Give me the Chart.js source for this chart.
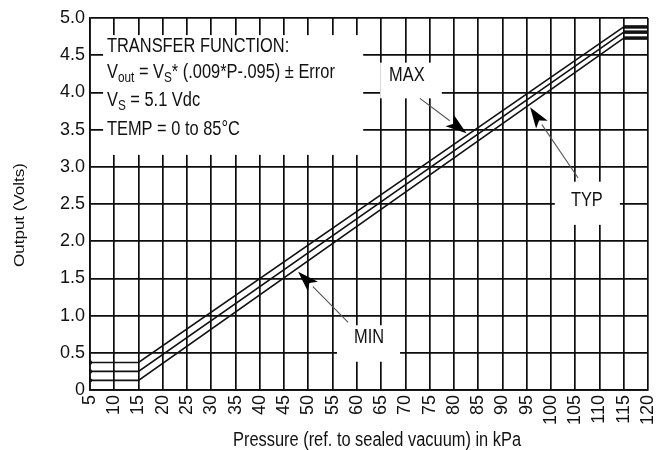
<!DOCTYPE html>
<html>
<head>
<meta charset="utf-8">
<script src="https://cdn.jsdelivr.net/npm/chart.js@4.4.1/dist/chart.umd.min.js"></script>
<style>
  html, body { margin: 0; padding: 0; background: #fff; }
  #wrap { width: 657px; height: 450px; }
</style>
</head>
<body>
<div id="wrap"><canvas id="chart" width="657" height="450"></canvas></div>
<script>
// Output voltage vs. pressure, three tolerance curves
const pressureKpa = [5, 15, 115, 120];
const minOutput = [0.13, 0.13, 4.73, 4.73];
const typOutput = [0.25, 0.25, 4.81, 4.81];
const maxOutput = [0.37, 0.37, 4.88, 4.88];

const pressureTicks = [5, 10, 15, 20, 25, 30, 35, 40, 45, 50, 55, 60, 65, 70, 75, 80, 85, 90, 95, 100, 105, 110, 115, 120];
const outputTicks = [0, 0.5, 1, 1.5, 2, 2.5, 3, 3.5, 4, 4.5, 5];
const outputTickLabels = ['0', '0.5', '1.0', '1.5', '2.0', '2.5', '3.0', '3.5', '4.0', '4.5', '5.0'];

const xTitle = 'Pressure (ref. to sealed vacuum) in kPa';
const yTitle = 'Output (Volts)';

// Transfer-function note (runs with sub: true are subscripts)
const transferLines = [
  [{ t: 'TRANSFER FUNCTION:' }],
  [{ t: 'V' }, { t: 'out', sub: true }, { t: ' = V' }, { t: 'S', sub: true }, { t: '* (.009*P-.095) \u00b1 Error' }],
  [{ t: 'V' }, { t: 'S', sub: true }, { t: ' = 5.1 Vdc' }],
  [{ t: 'TEMP = 0 to 85\u00b0C' }]
];
// note block in axis units: [kPa left, kPa right, volts top, volts bottom]
const transferBox = [7.7, 61.3, 4.77, 3.16];
const transferTextLeft = 8.5;
const transferBaselines = [4.543, 4.194, 3.817, 3.427];

// curve callouts in axis units
const callouts = [
  { text: 'MAX', center: [70.3, 4.23], box: [64.8, 77.5, 4.40, 3.92], tail: [73.0, 3.92], tip: [82.6, 3.45] },
  { text: 'TYP', center: [107.4, 2.55], box: [100.8, 114.2, 2.80, 2.22], tail: [105.6, 2.85], tip: [95.7, 3.80] },
  { text: 'MIN', center: [62.5, 0.70], box: [55.9, 68.9, 0.87, 0.38], tail: [58.2, 0.91], tip: [47.9, 1.59] }
];

const FONT = '"Liberation Sans", Arial, sans-serif';
const CONDENSE = 0.82;   // horizontal squeeze for the upright lettering
const INK = '#111';
const GRID = '#0d0d0d';

function toPoints(values) {
  return pressureKpa.map((p, i) => ({ x: p, y: values[i] }));
}

function curve(label, values) {
  return {
    label,
    data: toPoints(values),
    borderColor: INK,
    backgroundColor: INK,
    borderWidth: 1.6,
    pointRadius: ctx => (ctx.dataIndex === 0 ? 2.2 : 0),
    pointBackgroundColor: INK,
    pointBorderWidth: 0,
    fill: false,
    tension: 0,
    segment: {
      borderWidth: ctx => (ctx.p0DataIndex === 2 ? 3.5 : 1.6)
    }
  };
}

// condensed text: align is 'left' or 'center'
function fillCondensed(ctx, text, x, y, size, align) {
  ctx.save();
  ctx.font = `${size}px ${FONT}`;
  const w = ctx.measureText(text).width * CONDENSE;
  const x0 = align === 'center' ? x - w / 2 : x;
  ctx.translate(x0, y);
  ctx.scale(CONDENSE, 1);
  ctx.textAlign = 'left';
  ctx.fillText(text, 0, 0);
  ctx.restore();
}

function drawRuns(ctx, x, y, runs, size) {
  ctx.save();
  ctx.translate(x, y);
  ctx.scale(CONDENSE, 1);
  ctx.textAlign = 'left';
  let cx = 0;
  for (const r of runs) {
    const s = r.sub ? size * 0.72 : size;
    ctx.font = `${s}px ${FONT}`;
    ctx.fillText(r.t, cx, r.sub ? size * 0.22 : 0);
    cx += ctx.measureText(r.t).width;
  }
  ctx.restore();
}

function drawArrow(ctx, x0, y0, x1, y1) {
  const ang = Math.atan2(y1 - y0, x1 - x0);
  const headLen = 21, headHalf = 7;
  const bx = x1 - Math.cos(ang) * headLen, by = y1 - Math.sin(ang) * headLen;
  ctx.strokeStyle = '#555';
  ctx.lineWidth = 1.1;
  ctx.beginPath();
  ctx.moveTo(x0, y0);
  ctx.lineTo(bx, by);
  ctx.stroke();
  ctx.fillStyle = '#000';
  ctx.beginPath();
  ctx.moveTo(x1, y1);
  ctx.lineTo(bx + Math.sin(ang) * headHalf, by - Math.cos(ang) * headHalf);
  ctx.lineTo(bx + Math.cos(ang) * 5, by + Math.sin(ang) * 5);
  ctx.lineTo(bx - Math.sin(ang) * headHalf, by + Math.cos(ang) * headHalf);
  ctx.closePath();
  ctx.fill();
}

const annotations = {
  id: 'annotations',
  beforeDraw(chart) {
    const ctx = chart.ctx;
    ctx.save();
    ctx.fillStyle = '#fff';
    ctx.fillRect(0, 0, chart.width, chart.height);
    ctx.restore();
  },
  beforeDatasetsDraw(chart) {
    const { ctx, scales: { x, y } } = chart;
    ctx.save();
    ctx.fillStyle = '#fff';
    const boxes = [transferBox, ...callouts.map(c => c.box)];
    for (const b of boxes) {
      const l = x.getPixelForValue(b[0]), r = x.getPixelForValue(b[1]);
      const t = y.getPixelForValue(b[2]), btm = y.getPixelForValue(b[3]);
      ctx.fillRect(l, t, r - l, btm - t);
    }
    ctx.restore();
  },
  afterDatasetsDraw(chart) {
    const { ctx, scales: { x, y } } = chart;
    ctx.save();
    ctx.fillStyle = INK;
    ctx.textBaseline = 'alphabetic';
    const tx = x.getPixelForValue(transferTextLeft);
    transferLines.forEach((runs, i) => {
      ctx.fillStyle = INK;
      drawRuns(ctx, tx, y.getPixelForValue(transferBaselines[i]), runs, 20);
    });

    for (const c of callouts) {
      drawArrow(ctx, x.getPixelForValue(c.tail[0]), y.getPixelForValue(c.tail[1]),
        x.getPixelForValue(c.tip[0]), y.getPixelForValue(c.tip[1]));
      ctx.fillStyle = INK;
      ctx.textBaseline = 'middle';
      fillCondensed(ctx, c.text, x.getPixelForValue(c.center[0]), y.getPixelForValue(c.center[1]), 20, 'center');
    }

    // axis titles
    ctx.fillStyle = INK;
    ctx.textBaseline = 'alphabetic';
    fillCondensed(ctx, xTitle, (x.left + x.right) / 2 + 8, 446, 20, 'center');
    ctx.save();
    ctx.translate(24, 215);
    ctx.rotate(-Math.PI / 2);
    ctx.scale(1, CONDENSE);
    ctx.font = `17px ${FONT}`;
    ctx.textAlign = 'center';
    ctx.fillText(yTitle, 0, 0);
    ctx.restore();
    ctx.restore();
  }
};

new Chart(document.getElementById('chart'), {
  type: 'line',
  data: {
    datasets: [
      curve('MIN', minOutput),
      curve('TYP', typOutput),
      curve('MAX', maxOutput)
    ]
  },
  options: {
    responsive: false,
    animation: false,
    devicePixelRatio: 1,
    layout: { padding: { left: 0, right: 9, top: 18, bottom: 0 } },
    plugins: { legend: { display: false }, tooltip: { enabled: false } },
    scales: {
      x: {
        type: 'linear',
        min: 5,
        max: 120,
        afterBuildTicks: s => { s.ticks = pressureTicks.map(v => ({ value: v })); },
        afterFit: s => { s.height = 60; s.paddingLeft = 0; s.paddingRight = 0; },
        ticks: {
          autoSkip: false,
          minRotation: 90,
          maxRotation: 90,
          padding: 5,
          color: INK,
          font: { family: FONT, size: 18 },
          callback: v => String(v)
        },
        grid: { color: GRID, lineWidth: 1.7, drawTicks: false },
        border: { color: GRID, width: 1.7 }
      },
      y: {
        min: 0,
        max: 5,
        afterBuildTicks: s => { s.ticks = outputTicks.map(v => ({ value: v })); },
        afterFit: s => { s.width = 90; s.paddingTop = 0; s.paddingBottom = 0; },
        ticks: {
          padding: 5,
          color: INK,
          font: { family: FONT, size: 18 },
          callback: v => outputTickLabels[outputTicks.indexOf(v)]
        },
        grid: { color: GRID, lineWidth: 1.7, drawTicks: false },
        border: { color: GRID, width: 1.7 }
      }
    }
  },
  plugins: [annotations]
});
</script>
</body>
</html>
